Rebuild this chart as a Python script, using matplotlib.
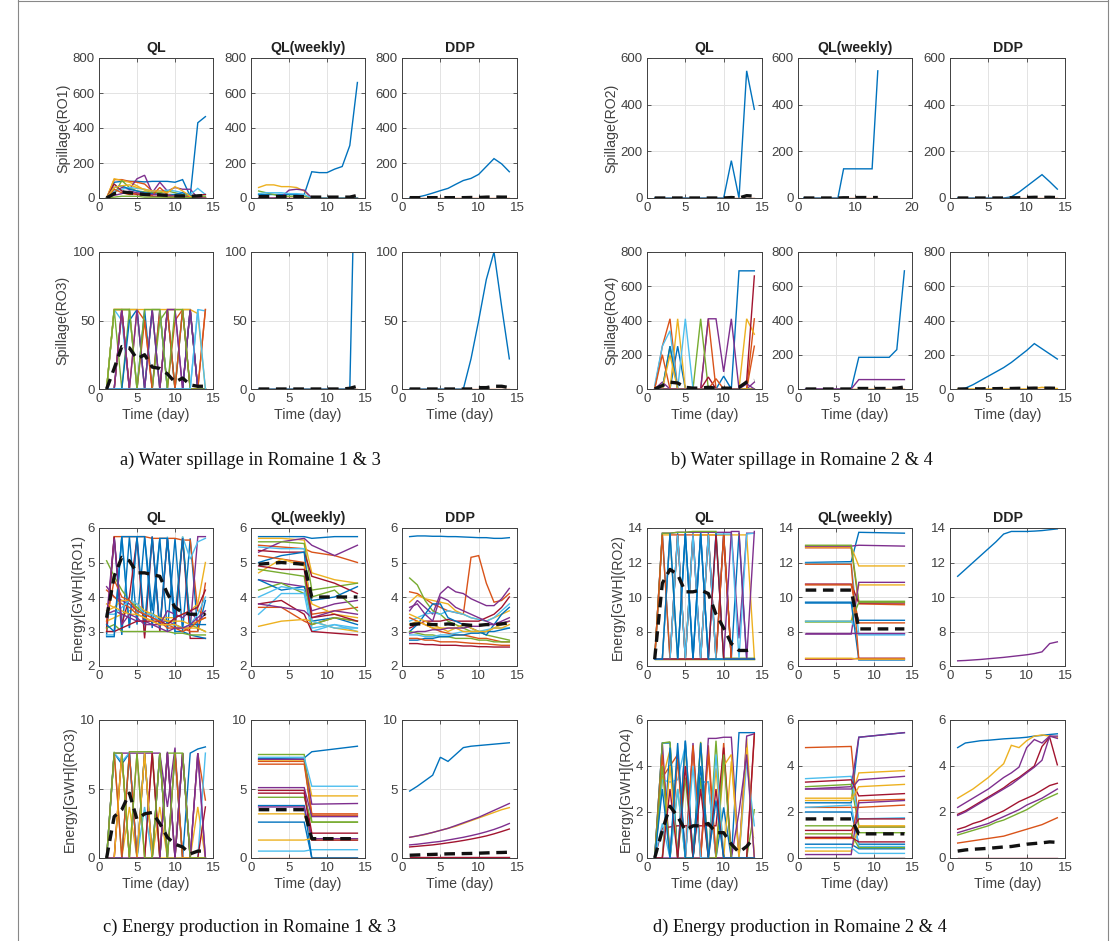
import matplotlib.pyplot as plt
from matplotlib.lines import Line2D

# MATLAB default line colours
C = ['#0072BD', '#D95319', '#EDB120', '#7E2F8E', '#77AC30', '#4DBEEE', '#A2142F']

days = list(range(1, 15))
days_w = [1, 7, 8, 14]
days_w6 = [1, 4, 7, 8, 11, 14]

# ---------------- a) spillage RO1 / RO3 ----------------
a_ql_ro1 = [
    [0, 90, 95, 95, 95, 92, 95, 95, 95, 90, 105, 10, 430, 465],
    [0, 105, 105, 95, 90, 80, 40, 20, 10, 5, 0, 0, 0, 0],
    [0, 110, 100, 90, 70, 45, 30, 20, 20, 15, 10, 5, 0, 0],
    [0, 30, 60, 50, 110, 130, 30, 90, 40, 60, 50, 50, 0, 0],
    [0, 20, 100, 60, 40, 35, 30, 30, 40, 30, 20, 10, 0, 0],
    [0, 40, 50, 60, 55, 50, 40, 40, 45, 40, 30, 20, 55, 20],
    [0, 80, 40, 30, 20, 15, 10, 10, 5, 5, 0, 0, 15, 20],
    [0, 60, 70, 50, 40, 30, 25, 20, 20, 20, 30, 15, 0, 0],
    [0, 50, 30, 20, 25, 20, 15, 60, 20, 10, 10, 5, 0, 5],
    [0, 60, 70, 75, 60, 50, 40, 40, 30, 65, 40, 10, 0, 0],
    [0, 15, 25, 40, 30, 25, 20, 20, 15, 10, 10, 0, 0, 0],
    [0, 5, 10, 10, 10, 5, 5, 5, 5, 5, 5, 0, 10, 10],
]
a_ql_ro1_mean = [0, 25, 35, 30, 25, 20, 20, 18, 15, 12, 12, 10, 12, 15]

a_qlw_ro1 = [
    [20, 20, 20, 20, 20, 20, 20, 150, 145, 145, 165, 180, 300, 660],
    [0, 0, 0, 0, 0, 0, 0, 0, 0, 0, 0, 0, 0, 0],
    [60, 75, 75, 65, 65, 60, 40, 0, 0, 0, 0, 0, 0, 0],
    [0, 0, 0, 5, 45, 50, 45, 0, 0, 0, 0, 0, 0, 0],
    [40, 30, 20, 10, 10, 10, 10, 0, 0, 0, 0, 0, 0, 0],
    [25, 30, 30, 30, 25, 25, 20, 0, 0, 0, 0, 0, 0, 0],
    [0, 0, 0, 0, 0, 0, 0, 0, 0, 0, 0, 0, 0, 0],
]
a_qlw_ro1_mean = [8, 8, 8, 8, 8, 8, 8, 5, 5, 5, 5, 5, 5, 15]

a_ddp_ro1 = [
    [0, 5, 15, 28, 42, 55, 78, 100, 112, 135, 180, 225, 195, 150],
    [0, 0, 0, 0, 0, 0, 0, 0, 0, 0, 0, 0, 0, 0],
]
a_ddp_ro1_mean = [2, 2, 2, 2, 2, 2, 2, 2, 3, 3, 5, 6, 5, 5]

a_ql_ro3 = [
    [0, 0, 58, 58, 0, 58, 0, 58, 0, 0, 58, 0, 0, 0],
    [0, 58, 58, 0, 58, 50, 0, 58, 0, 50, 58, 0, 0, 58],
    [0, 58, 58, 58, 0, 0, 58, 0, 58, 0, 0, 0, 0, 0],
    [0, 0, 0, 0, 0, 0, 0, 0, 58, 58, 0, 58, 0, 0],
    [0, 58, 0, 58, 58, 0, 0, 50, 58, 0, 58, 58, 0, 0],
    [0, 58, 50, 0, 0, 0, 58, 58, 0, 0, 0, 0, 58, 57],
    [0, 0, 58, 0, 0, 0, 0, 0, 0, 0, 0, 58, 0, 0],
    [0, 0, 0, 50, 58, 0, 58, 0, 58, 0, 0, 58, 0, 0],
    [0, 0, 58, 0, 0, 50, 0, 0, 58, 0, 58, 0, 0, 58],
    [0, 58, 58, 58, 58, 58, 58, 58, 58, 58, 58, 58, 55, 0],
    [0, 0, 58, 0, 58, 0, 58, 0, 58, 58, 0, 58, 0, 0],
    [0, 58, 58, 58, 0, 58, 58, 58, 0, 58, 58, 0, 0, 0],
    [0, 0, 0, 0, 0, 0, 0, 0, 0, 0, 0, 0, 58, 0],
]
a_ql_ro3_mean = [0, 15, 31, 30, 22, 25, 16, 15, 11, 5, 8, 3, 2, 2]

a_qlw_ro3 = [
    [0, 0, 0, 0, 0, 0, 0, 0, 0, 0, 0, 0, 0, 250],
    [0, 0, 0, 0, 0, 0, 0, 0, 0, 0, 0, 0, 0, 0],
]
a_qlw_ro3_mean = [0, 0, 0, 0, 0, 0, 0, 0, 0, 0, 0, 0, 0.5, 2]

a_ddp_ro3 = [
    [0, 0, 0, 0, 0, 0, 0, 0, 22, 50, 80, 100, 60, 22],
    [0, 0, 0, 0, 0, 0, 0, 0, 0, 0, 0, 0, 0, 0],
]
a_ddp_ro3_mean = [0, 0, 0, 0, 0, 0, 0, 0, 0, 1, 1, 2, 2, 1]

# ---------------- b) spillage RO2 / RO4 ----------------
b_ql_ro2 = [
    [0, 0, 0, 0, 0, 0, 0, 0, 0, 0, 160, 0, 545, 380],
    [0, 0, 0, 0, 0, 0, 0, 0, 0, 0, 0, 0, 0, 0],
]
b_ql_ro2_mean = [0, 0, 0, 0, 0, 0, 0, 0, 0, 0, 2, 0, 10, 8]

b_qlw_ro2 = [
    [0, 0, 0, 0, 0, 0, 0, 125, 125, 125, 125, 125, 125, 545],
    [0, 0, 0, 0, 0, 0, 0, 0, 0, 0, 0, 0, 0, 0],
]
b_qlw_ro2_mean = [0, 0, 0, 0, 0, 0, 0, 1, 1, 2, 2, 2, 2, 2]

b_ddp_ro2 = [
    [0, 0, 0, 0, 0, 0, 0, 5, 25, 50, 75, 100, 70, 38],
    [0, 0, 0, 0, 0, 0, 0, 0, 0, 0, 0, 0, 0, 0],
]
b_ddp_ro2_mean = [0, 0, 0, 0, 0, 0, 0, 1, 1, 2, 3, 3, 3, 2]

b_ql_ro4 = [
    [0, 0, 0, 250, 0, 0, 0, 0, 0, 75, 0, 690, 690, 690],
    [0, 250, 410, 0, 0, 0, 0, 410, 0, 0, 0, 0, 0, 410],
    [0, 0, 0, 410, 0, 0, 0, 0, 0, 0, 0, 0, 410, 320],
    [0, 40, 0, 0, 0, 0, 0, 410, 410, 100, 410, 0, 0, 40],
    [0, 0, 250, 0, 0, 0, 410, 0, 0, 0, 0, 0, 0, 0],
    [20, 250, 340, 0, 410, 0, 0, 0, 0, 0, 0, 0, 0, 0],
    [0, 0, 0, 0, 0, 0, 0, 70, 0, 0, 0, 0, 50, 660],
    [0, 0, 250, 0, 0, 0, 0, 0, 0, 0, 0, 0, 0, 0],
    [0, 200, 0, 0, 0, 0, 0, 0, 60, 0, 0, 0, 0, 250],
    [0, 0, 200, 0, 0, 0, 0, 0, 0, 0, 0, 0, 0, 0],
    [0, 0, 0, 0, 0, 0, 0, 0, 0, 0, 0, 0, 30, 0],
    [0, 0, 0, 0, 0, 0, 0, 0, 0, 0, 0, 0, 0, 0],
]
b_ql_ro4_mean = [0, 20, 40, 35, 10, 5, 5, 10, 5, 5, 5, 10, 40, 50]

b_qlw_ro4 = [
    [0, 0, 0, 0, 0, 0, 0, 185, 185, 185, 185, 185, 230, 690],
    [0, 0, 0, 0, 0, 0, 0, 0, 0, 0, 0, 0, 0, 0],
    [0, 0, 0, 0, 0, 0, 0, 0, 0, 0, 0, 0, 0, 0],
    [0, 0, 0, 0, 0, 0, 0, 55, 55, 55, 55, 55, 55, 55],
]
b_qlw_ro4_mean = [0, 0, 0, 0, 0, 0, 0, 3, 3, 3, 3, 3, 5, 12]

b_ddp_ro4 = [
    [0, 5, 25, 50, 75, 100, 125, 155, 190, 225, 265, 235, 205, 175],
    [0, 0, 0, 0, 0, 0, 0, 0, 0, 0, 0, 0, 0, 0],
    [0, 0, 0, 0, 0, 0, 0, 0, 0, 0, 3, 10, 5, 3],
]
b_ddp_ro4_mean = [0, 0, 1, 1, 2, 2, 3, 3, 4, 4, 5, 5, 5, 4]

# ---------------- c) energy RO1 / RO3 ----------------
c_ql_ro1 = [
    [2.9, 5.75, 2.9, 5.75, 3.2, 5.75, 3.1, 5.7, 3.0, 5.7, 3.0, 5.7, 3.0, 3.9],
    [3.0, 5.75, 5.75, 5.75, 5.75, 5.75, 5.7, 5.7, 5.7, 5.7, 5.65, 5.65, 3.6, 3.5],
    [3.3, 3.4, 3.5, 3.6, 3.7, 3.6, 3.5, 3.4, 3.4, 3.4, 3.5, 3.6, 3.8, 5.0],
    [4.3, 4.0, 3.9, 3.8, 3.6, 3.5, 3.4, 3.3, 3.3, 3.2, 3.1, 3.1, 5.75, 5.75],
    [5.05, 4.6, 4.2, 3.9, 3.7, 3.5, 3.5, 3.4, 3.3, 3.3, 5.75, 3.2, 3.1, 3.0],
    [2.9, 2.9, 5.75, 3.1, 5.75, 2.9, 5.75, 3.0, 5.75, 2.9, 5.75, 5.1, 5.6, 5.7],
    [3.1, 5.75, 3.2, 4.0, 5.7, 2.8, 5.75, 3.0, 5.7, 3.1, 5.7, 2.8, 2.8, 2.8],
    [2.85, 2.85, 5.75, 3.1, 5.75, 3.2, 5.75, 3.1, 5.7, 3.0, 3.0, 2.9, 2.85, 2.8],
    [4.2, 4.0, 3.8, 3.7, 3.5, 3.4, 3.3, 3.2, 3.2, 3.1, 3.1, 3.0, 3.0, 4.4],
    [3.6, 3.7, 3.9, 3.9, 3.8, 3.6, 3.5, 3.4, 3.3, 3.3, 3.3, 3.2, 3.3, 3.4],
    [3.5, 3.6, 3.5, 3.4, 3.3, 3.3, 3.2, 3.2, 3.6, 3.5, 3.4, 3.6, 3.3, 3.5],
    [3.1, 3.2, 3.0, 3.0, 3.0, 3.0, 3.0, 3.0, 3.0, 2.95, 2.95, 2.9, 2.9, 2.9],
    [3.5, 3.5, 3.7, 3.9, 3.8, 3.5, 3.5, 3.3, 3.2, 3.2, 3.1, 3.2, 3.5, 4.0],
    [3.0, 3.0, 3.1, 3.2, 3.3, 3.3, 3.3, 3.3, 3.2, 3.4, 3.5, 3.6, 3.7, 4.2],
    [3.2, 3.0, 5.75, 5.75, 5.75, 5.75, 3.6, 5.7, 5.7, 3.4, 5.7, 3.2, 3.2, 3.2],
    [3.3, 4.5, 4.0, 3.9, 3.6, 3.5, 3.4, 3.3, 3.1, 3.1, 3.0, 3.1, 3.3, 3.4],
    [3.8, 3.7, 3.6, 3.5, 3.5, 3.4, 3.3, 3.2, 3.2, 3.2, 3.1, 3.1, 3.1, 3.0],
    [3.4, 5.7, 3.2, 3.5, 3.4, 3.2, 3.2, 3.1, 3.0, 3.1, 3.1, 3.2, 3.4, 3.6],
]
c_ql_ro1_mean = [3.4, 4.6, 5.15, 5.05, 4.7, 4.7, 4.65, 4.6, 4.1, 3.7, 3.55, 3.5, 3.5, 3.5]

c_qlw_ro1 = [
    [5.75, 5.75, 5.75, 5.7, 5.75, 5.75],
    [5.5, 5.45, 5.4, 5.3, 5.2, 5.0],
    [5.7, 5.7, 5.65, 4.7, 4.5, 4.4],
    [5.3, 5.6, 5.7, 5.5, 5.2, 5.5],
    [5.6, 5.6, 5.55, 4.2, 4.3, 4.4],
    [5.45, 5.4, 5.4, 3.1, 3.2, 3.1],
    [5.35, 5.3, 5.3, 4.6, 4.4, 4.1],
    [5.0, 5.2, 5.3, 3.3, 3.4, 3.2],
    [5.2, 5.1, 5.0, 3.5, 3.6, 3.7],
    [4.7, 5.1, 4.9, 3.8, 3.5, 3.4],
    [4.5, 4.4, 4.3, 3.6, 3.8, 3.9],
    [4.2, 4.4, 4.1, 4.0, 4.2, 3.6],
    [3.5, 4.1, 4.1, 3.0, 3.2, 3.0],
    [3.8, 3.9, 3.5, 3.0, 2.95, 2.9],
    [4.5, 4.2, 4.3, 3.9, 4.0, 4.3],
    [3.7, 3.7, 3.3, 3.2, 3.4, 3.3],
    [3.15, 3.3, 3.35, 3.3, 3.1, 3.0],
    [3.8, 3.7, 3.6, 3.4, 3.6, 3.5],
    [4.8, 4.7, 4.6, 3.2, 3.4, 3.3],
    [4.0, 4.3, 4.2, 3.3, 3.1, 3.1],
    [4.9, 4.8, 4.8, 3.4, 3.5, 3.3],
]
c_qlw_ro1_mean = [4.95, 5.0, 4.95, 4.0, 4.0, 4.0]

c_ddp_ro1 = [
    [5.75, 5.77, 5.77, 5.76, 5.76, 5.75, 5.75, 5.74, 5.73, 5.72, 5.72, 5.7, 5.7, 5.72],
    [4.15, 4.1, 3.95, 3.8, 3.7, 3.6, 3.55, 3.5, 5.15, 5.2, 4.4, 3.85, 3.9, 4.1],
    [3.85, 4.05, 3.95, 3.9, 3.85, 3.8, 3.6, 3.5, 3.4, 3.35, 3.3, 3.4, 3.5, 3.6],
    [3.6, 3.9, 3.7, 3.5, 4.1, 4.3, 4.15, 4.1, 3.95, 3.85, 3.75, 3.75, 3.95, 4.25],
    [4.55, 4.35, 3.9, 3.6, 3.5, 3.3, 3.2, 3.1, 3.0, 3.0, 2.9, 2.85, 2.8, 2.75],
    [3.3, 3.4, 3.5, 3.55, 3.5, 3.6, 3.55, 3.5, 3.4, 3.35, 3.3, 3.4, 3.6, 3.8],
    [3.1, 3.2, 3.3, 3.3, 3.3, 3.35, 3.3, 3.3, 3.3, 3.3, 3.4, 3.5, 3.7, 4.0],
    [3.0, 3.2, 3.5, 3.8, 3.8, 3.4, 3.3, 3.2, 3.1, 3.0, 2.9, 3.2, 3.5, 3.7],
    [3.4, 3.3, 3.2, 3.1, 3.0, 2.95, 2.9, 2.9, 2.85, 2.8, 2.8, 2.75, 2.7, 2.7],
    [3.2, 3.3, 3.2, 3.1, 3.1, 3.0, 3.1, 3.2, 3.1, 3.0, 3.0, 3.1, 3.2, 3.3],
    [3.7, 3.8, 3.5, 3.3, 4.0, 3.9, 3.7, 3.6, 3.5, 3.4, 3.3, 3.2, 3.3, 3.4],
    [3.0, 2.95, 2.9, 2.9, 2.85, 2.85, 2.8, 2.8, 2.8, 2.75, 2.75, 2.7, 2.7, 2.7],
    [2.9, 2.9, 2.85, 2.85, 2.9, 2.9, 2.95, 3.0, 3.0, 3.0, 3.05, 3.1, 3.1, 3.1],
    [2.65, 2.65, 2.62, 2.62, 2.6, 2.6, 2.6, 2.58, 2.58, 2.56, 2.56, 2.55, 2.55, 2.55],
    [2.75, 2.75, 2.8, 2.8, 2.85, 2.85, 2.9, 2.9, 2.95, 2.95, 3.0, 3.0, 3.05, 3.1],
    [2.8, 2.8, 2.75, 2.75, 2.7, 2.7, 2.7, 2.68, 2.66, 2.65, 2.64, 2.62, 2.6, 2.6],
    [3.5, 3.4, 3.3, 3.2, 3.1, 3.1, 3.1, 3.0, 3.0, 3.0, 3.0, 3.1, 3.1, 3.2],
    [2.95, 3.0, 3.0, 3.05, 3.05, 3.1, 3.1, 3.1, 3.15, 3.15, 3.2, 3.2, 3.25, 3.3],
]
c_ddp_ro1_mean = [3.2, 3.22, 3.22, 3.2, 3.2, 3.22, 3.2, 3.2, 3.18, 3.18, 3.2, 3.2, 3.22, 3.25]

c_ql_ro3 = [
    [0, 7.6, 6.8, 7.6, 0, 7.6, 0, 7.6, 0, 7.6, 0, 7.6, 7.9, 8.05],
    [0, 0, 7.6, 0, 7.6, 0, 7.6, 0, 7.6, 0, 7.6, 0, 7.6, 4.2],
    [0, 0, 0, 3.7, 0, 0, 0, 3.7, 0, 0, 7.6, 0, 3.7, 0],
    [0, 7.6, 7.6, 7.6, 7.6, 7.6, 7.6, 7.6, 3.7, 8.0, 0, 0, 7.6, 0],
    [0, 7.7, 0, 7.7, 7.7, 7.7, 7.7, 0, 7.6, 7.6, 0, 0, 0, 0],
    [0, 7.6, 7.0, 7.6, 0, 3.7, 0, 0, 7.6, 0, 7.6, 0, 0, 7.6],
    [0, 0, 7.6, 0, 0, 0, 7.6, 0, 7.6, 0, 7.6, 0, 0, 3.7],
    [0, 0, 0, 7.6, 0, 7.6, 0, 7.6, 0, 0, 0, 0, 0, 0],
    [0, 7.6, 0, 7.6, 0, 7.6, 0, 7.6, 0, 7.6, 0, 0, 0, 0],
    [0, 0, 7.6, 0, 0, 7.6, 0, 0, 0, 0, 0, 0, 0, 0],
    [0, 0, 0, 0, 0, 0, 0, 0, 7.7, 0, 7.6, 0, 7.6, 0],
    [0, 7.6, 7.6, 0, 7.6, 0, 0, 7.6, 0, 7.6, 7.6, 0, 0, 0],
]
c_ql_ro3_mean = [0, 3.0, 3.5, 4.7, 2.8, 3.2, 3.3, 2.5, 1.5, 1.0, 0.8, 0.3, 0.5, 0.5]

c_qlw_ro3 = [
    [7.2, 7.25, 7.7, 8.1],
    [7.0, 7.0, 3.2, 3.2],
    [7.1, 7.1, 4.5, 4.5],
    [7.15, 7.15, 3.9, 3.95],
    [7.5, 7.5, 2.6, 2.6],
    [7.3, 7.3, 5.2, 5.2],
    [4.9, 4.9, 1.8, 1.8],
    [2.6, 2.6, 0, 0],
    [6.8, 6.8, 3.1, 3.1],
    [3.2, 3.2, 1.3, 1.3],
    [5.1, 5.1, 3.0, 3.0],
    [4.4, 4.4, 2.6, 2.6],
    [0.5, 0.5, 0.6, 0.6],
    [4.7, 4.7, 1.3, 1.3],
    [3.8, 3.8, 0, 0],
    [0, 0, 0, 0],
    [1.3, 1.3, 1.4, 1.4],
    [3.7, 3.7, 1.4, 1.4],
]
c_qlw_ro3_mean = [3.5, 3.5, 1.4, 1.4]

c_ddp_ro3 = [
    [4.85, 5.2, 5.6, 6.0, 7.3, 7.0, 7.5, 8.0, 8.1, 8.15, 8.2, 8.25, 8.3, 8.35],
    [0.05, 0.05, 0.05, 0.05, 0.05, 0.05, 0.05, 0.05, 0.05, 0.05, 0.05, 0.05, 0.05, 0.05],
    [1.5, 1.6, 1.7, 1.85, 2.0, 2.15, 2.3, 2.5, 2.7, 2.9, 3.1, 3.3, 3.5, 3.65],
    [1.5, 1.6, 1.72, 1.85, 2.0, 2.15, 2.35, 2.55, 2.75, 2.95, 3.2, 3.45, 3.7, 3.95],
    [0.95, 1.0, 1.07, 1.14, 1.2, 1.3, 1.4, 1.5, 1.62, 1.75, 1.9, 2.07, 2.27, 2.5],
    [0.8, 0.85, 0.9, 0.95, 1.02, 1.1, 1.18, 1.27, 1.37, 1.48, 1.6, 1.75, 1.92, 2.1],
]
c_ddp_ro3_colors = [0, 6, 2, 3, 3, 6]
c_ddp_ro3_mean = [0.2, 0.22, 0.24, 0.26, 0.28, 0.3, 0.31, 0.32, 0.33, 0.35, 0.37, 0.39, 0.4, 0.42]

# ---------------- d) energy RO2 / RO4 ----------------
d_ql_ro2 = [
    [6.4, 13.7, 6.4, 13.7, 6.4, 13.7, 6.4, 13.7, 6.4, 13.7, 6.4, 13.7, 6.4, 6.4],
    [6.4, 6.4, 13.6, 13.6, 13.6, 13.6, 13.6, 13.6, 13.6, 13.6, 6.4, 6.4, 6.4, 6.4],
    [6.4, 13.6, 13.6, 6.4, 6.4, 13.6, 13.6, 13.6, 13.6, 13.6, 13.6, 13.6, 13.6, 6.5],
    [6.4, 13.7, 13.7, 13.75, 13.75, 13.75, 13.75, 13.75, 13.75, 13.75, 13.75, 7.6, 13.7, 13.7],
    [6.4, 13.7, 13.7, 13.75, 13.75, 13.8, 13.8, 13.8, 13.8, 6.45, 6.45, 6.45, 6.45, 6.45],
    [6.4, 6.4, 13.65, 6.4, 13.65, 6.4, 13.65, 6.4, 13.65, 13.65, 13.65, 6.4, 13.65, 13.7],
    [6.4, 6.4, 6.4, 13.6, 6.4, 13.6, 6.4, 13.6, 6.4, 13.6, 6.4, 6.4, 6.4, 6.4],
    [6.4, 6.4, 6.4, 6.4, 13.7, 6.4, 13.7, 6.4, 13.7, 6.4, 6.4, 6.4, 6.4, 6.4],
    [6.4, 13.6, 6.4, 13.6, 6.4, 6.4, 6.4, 13.6, 6.4, 13.6, 6.4, 6.4, 6.4, 6.4],
    [6.4, 6.4, 6.4, 6.4, 6.4, 6.4, 6.4, 6.4, 6.4, 6.4, 6.4, 6.4, 6.4, 6.4],
    [6.4, 6.4, 6.4, 6.4, 6.4, 6.4, 6.4, 6.4, 6.4, 6.4, 13.8, 13.8, 6.4, 13.8],
    [6.4, 6.4, 6.4, 6.4, 6.4, 6.4, 6.4, 6.4, 6.4, 6.4, 6.4, 6.4, 6.4, 6.4],
    [6.4, 6.4, 6.4, 13.6, 6.4, 13.6, 6.4, 13.6, 6.4, 6.4, 6.4, 6.4, 6.4, 6.4],
    [6.4, 6.4, 6.4, 6.4, 6.4, 6.4, 6.4, 6.4, 13.6, 6.4, 6.4, 6.4, 6.4, 6.4],
    [6.4, 6.4, 13.7, 6.4, 13.7, 6.4, 13.7, 6.4, 6.4, 6.4, 6.4, 6.4, 6.4, 6.4],
]
d_ql_ro2_mean = [6.4, 10.8, 11.6, 11.3, 10.3, 10.3, 10.4, 10.2, 9.0, 8.2, 7.3, 6.9, 6.9, 7.0]

d_qlw_ro2 = [
    [12.0, 12.05, 13.75, 13.7],
    [12.85, 12.85, 9.6, 9.55],
    [12.9, 12.9, 11.8, 11.8],
    [12.95, 12.95, 13.0, 12.95],
    [13.0, 13.0, 9.75, 9.75],
    [11.95, 11.95, 7.8, 7.8],
    [10.75, 10.75, 9.65, 9.65],
    [9.65, 9.65, 8.65, 8.65],
    [10.7, 10.7, 8.5, 8.5],
    [8.6, 8.6, 10.7, 10.7],
    [7.85, 7.85, 10.85, 10.85],
    [8.55, 8.55, 9.7, 9.7],
    [8.6, 8.6, 7.85, 7.85],
    [6.4, 6.4, 6.45, 6.45],
    [9.7, 9.7, 6.35, 6.35],
    [11.9, 11.9, 6.4, 6.4],
    [6.45, 6.45, 6.4, 6.4],
    [7.9, 7.9, 7.9, 7.9],
]
d_qlw_ro2_mean = [10.4, 10.4, 8.15, 8.15]

d_ddp_ro2 = [
    [11.2, 11.6, 12.0, 12.4, 12.8, 13.2, 13.65, 13.8, 13.8, 13.8, 13.82, 13.85, 13.9, 13.95],
    [6.3, 6.32, 6.35, 6.38, 6.42, 6.46, 6.5, 6.55, 6.6, 6.65, 6.72, 6.82, 7.3, 7.4],
]
d_ddp_ro2_colors = [0, 3]

d_ql_ro4 = [
    [0, 5.0, 5.0, 0, 5.1, 0, 3.3, 3.3, 0, 2.2, 0, 5.45, 5.45, 5.45],
    [0, 3.5, 4.0, 4.5, 0, 4.8, 0, 4.9, 0, 5.0, 0, 0, 0, 5.3],
    [0, 3.4, 4.7, 0, 4.8, 0, 5.0, 0, 3.9, 0, 4.2, 0, 5.2, 0],
    [0, 5.0, 0, 4.6, 0, 5.0, 0, 5.2, 5.2, 5.25, 5.25, 0, 5.3, 5.4],
    [0, 5.0, 5.05, 0, 3.5, 0, 5.05, 0, 5.1, 0, 0, 0, 0, 2.1],
    [0, 3.4, 3.3, 3.4, 4.9, 0, 3.3, 3.3, 0, 0, 0, 0, 4.2, 1.4],
    [0, 1.3, 1.35, 1.4, 1.4, 1.4, 1.4, 1.4, 1.4, 4.8, 0, 0, 0, 5.4],
    [0, 0, 4.8, 0, 5.1, 0, 5.0, 0, 0, 0, 0, 0, 0, 0],
    [0, 4.5, 0, 4.3, 0, 4.9, 0, 4.5, 0, 0, 0, 0, 0, 0],
    [0, 0, 4.0, 0, 0, 0, 0, 0, 0, 4.0, 4.5, 0, 4.8, 0],
    [0, 0, 0, 0, 0, 0, 0, 0, 0, 0, 0, 2.0, 4.5, 0],
    [0, 4.0, 0, 3.0, 0, 0, 3.5, 0, 0, 4.5, 0, 0, 0, 0],
    [0, 1.5, 0, 3.0, 0, 4.0, 0, 0, 4.5, 0, 0, 0, 0, 0],
    [0, 0, 3.0, 0, 4.0, 0, 3.0, 0, 3.0, 0, 0, 0, 0, 0],
    [0, 3.0, 0, 5.0, 0, 0, 4.0, 0, 2.5, 0, 0, 0, 0, 0],
]
d_ql_ro4_mean = [0, 1.2, 2.25, 1.8, 1.2, 1.4, 1.4, 1.5, 1.1, 1.1, 0.6, 0.25, 0.5, 0.9]

d_qlw_ro4 = [
    [2.4, 2.4, 5.25, 5.45],
    [4.8, 4.85, 1.35, 1.35],
    [2.6, 2.6, 3.7, 3.8],
    [3.0, 3.1, 5.25, 5.45],
    [3.1, 3.2, 1.35, 1.35],
    [3.45, 3.55, 1.7, 1.75],
    [3.3, 3.4, 2.7, 2.8],
    [2.0, 2.0, 0.6, 0.6],
    [2.2, 2.2, 2.2, 2.3],
    [2.5, 2.5, 3.1, 3.2],
    [3.0, 3.0, 3.4, 3.55],
    [1.4, 1.4, 1.1, 1.1],
    [2.2, 2.3, 0.5, 0.5],
    [1.2, 1.2, 1.7, 1.7],
    [0.6, 0.6, 0.4, 0.4],
    [0.85, 0.85, 2.5, 2.55],
    [0.3, 0.3, 1.4, 1.4],
    [0.15, 0.15, 2.4, 2.5],
    [1.05, 1.05, 0.45, 0.45],
    [0.45, 0.45, 0.2, 0.2],
    [0.9, 0.9, 0.7, 0.7],
    [0, 0, 0, 0],
    [0, 0, 0, 0],
]
d_qlw_ro4_mean = [1.7, 1.7, 1.05, 1.05]

d_ddp_ro4 = [
    [4.8, 5.0, 5.05, 5.1, 5.12, 5.15, 5.18, 5.2, 5.22, 5.25, 5.3, 5.33, 5.37, 5.4],
    [2.6, 2.8, 3.0, 3.25, 3.5, 3.8, 4.1, 4.9, 4.8, 5.1, 5.3, 5.35, 5.3, 5.25],
    [2.2, 2.4, 2.6, 2.8, 3.0, 3.25, 3.5, 3.7, 3.95, 4.8, 5.15, 5.0, 5.3, 5.3],
    [1.9, 2.05, 2.25, 2.45, 2.65, 2.85, 3.05, 3.3, 3.5, 3.75, 4.0, 4.85, 5.25, 4.05],
    [1.85, 2.0, 2.2, 2.4, 2.6, 2.8, 3.0, 3.2, 3.45, 3.7, 3.95, 4.25, 5.3, 5.2],
    [1.25, 1.35, 1.5, 1.6, 1.75, 1.9, 2.05, 2.25, 2.45, 2.6, 2.75, 2.95, 3.15, 3.25],
    [1.1, 1.2, 1.3, 1.4, 1.5, 1.65, 1.8, 1.95, 2.1, 2.3, 2.45, 2.6, 2.8, 3.0],
    [1.0, 1.1, 1.2, 1.3, 1.4, 1.55, 1.65, 1.8, 1.95, 2.1, 2.3, 2.5, 2.65, 2.8],
    [0.65, 0.7, 0.75, 0.8, 0.85, 0.9, 0.95, 1.05, 1.15, 1.25, 1.35, 1.45, 1.6, 1.75],
    [0, 0, 0, 0, 0, 0, 0, 0, 0, 0, 0, 0, 0, 0],
]
d_ddp_ro4_colors = [0, 2, 3, 6, 3, 6, 3, 4, 1, 6]
d_ddp_ro4_mean = [0.3, 0.35, 0.38, 0.4, 0.42, 0.45, 0.48, 0.5, 0.55, 0.6, 0.63, 0.66, 0.7, 0.68]

# ---------------- figure layout (pixels) ----------------
W, H = 1120, 941
fig = plt.figure(figsize=(W / 100, H / 100), dpi=100)
plt.rcParams['font.family'] = ['Liberation Sans', 'DejaVu Sans']

AX = '#404040'

def add_ax(x0, x1, y0, y1):
    return fig.add_axes([x0 / W, 1 - y1 / H, (x1 - x0) / W, (y1 - y0) / H])

def draw(ax, x, lines, mean, colors=None, ylim=(0, 1), yticks=None,
         xlim=(0, 15), xticks=(0, 5, 10, 15), title=None, ylabel=None, xlabel=False):
    for i, y in enumerate(lines):
        c = C[colors[i]] if colors is not None else C[i % 7]
        ax.plot(x, y, color=c, lw=1.0, solid_joinstyle='miter')
    if mean is not None:
        ax.plot(x, mean, color='#111111', lw=2.4, dashes=(3.2, 2.0))
    ax.set_xlim(*xlim)
    ax.set_ylim(*ylim)
    ax.set_xticks(xticks)
    if yticks is not None:
        ax.set_yticks(yticks)
    ax.grid(True, color='#e3e3e3', lw=0.7)
    ax.set_axisbelow(True)
    ax.tick_params(direction='in', length=3, width=0.6, colors=AX, labelsize=9.5,
                   top=True, right=True, pad=3)
    for s in ax.spines.values():
        s.set_color(AX)
        s.set_linewidth(0.7)
    if title:
        ax.set_title(title, fontsize=10.2, fontweight='bold', color='#222222', pad=4)
    if ylabel:
        ax.set_ylabel(ylabel, fontsize=10.2, color=AX, labelpad=2)
    if xlabel:
        ax.set_xlabel('Time (day)', fontsize=10.2, color=AX, labelpad=2)

cols_a = [(99, 213), (251, 365), (402, 517)]
cols_b = [(647, 762), (798, 912), (950, 1065)]
rows_ab = [(58, 198), (252, 389)]
rows_cd = [(528, 666), (720, 858)]
titles = ['QL', 'QL(weekly)', 'DDP']

# panel a
yt = [0, 200, 400, 600, 800]
specs = [
    (cols_a, rows_ab[0], 'Spillage(RO1)', False, [
        (days, a_ql_ro1, a_ql_ro1_mean, None, (0, 800), yt, (0, 15), (0, 5, 10, 15)),
        (days, a_qlw_ro1, a_qlw_ro1_mean, None, (0, 800), yt, (0, 15), (0, 5, 10, 15)),
        (days, a_ddp_ro1, a_ddp_ro1_mean, None, (0, 800), yt, (0, 15), (0, 5, 10, 15))]),
    (cols_a, rows_ab[1], 'Spillage(RO3)', True, [
        (days, a_ql_ro3, a_ql_ro3_mean, None, (0, 100), [0, 50, 100], (0, 15), (0, 5, 10, 15)),
        (days, a_qlw_ro3, a_qlw_ro3_mean, None, (0, 100), [0, 50, 100], (0, 15), (0, 5, 10, 15)),
        (days, a_ddp_ro3, a_ddp_ro3_mean, None, (0, 100), [0, 50, 100], (0, 15), (0, 5, 10, 15))]),
    (cols_b, rows_ab[0], 'Spillage(RO2)', False, [
        (days, b_ql_ro2, b_ql_ro2_mean, None, (0, 600), [0, 200, 400, 600], (0, 15), (0, 5, 10, 15)),
        (days, b_qlw_ro2, b_qlw_ro2_mean, None, (0, 600), [0, 200, 400, 600], (0, 20), (0, 10, 20)),
        (days, b_ddp_ro2, b_ddp_ro2_mean, None, (0, 600), [0, 200, 400, 600], (0, 15), (0, 5, 10, 15))]),
    (cols_b, rows_ab[1], 'Spillage(RO4)', True, [
        (days, b_ql_ro4, b_ql_ro4_mean, None, (0, 800), yt, (0, 15), (0, 5, 10, 15)),
        (days, b_qlw_ro4, b_qlw_ro4_mean, None, (0, 800), yt, (0, 15), (0, 5, 10, 15)),
        (days, b_ddp_ro4, b_ddp_ro4_mean, None, (0, 800), yt, (0, 15), (0, 5, 10, 15))]),
    (cols_a, rows_cd[0], 'Energy[GWH](RO1)', False, [
        (days, c_ql_ro1, c_ql_ro1_mean, None, (2, 6), [2, 3, 4, 5, 6], (0, 15), (0, 5, 10, 15)),
        (days_w6, c_qlw_ro1, c_qlw_ro1_mean, None, (2, 6), [2, 3, 4, 5, 6], (0, 15), (0, 5, 10, 15)),
        (days, c_ddp_ro1, c_ddp_ro1_mean, None, (2, 6), [2, 3, 4, 5, 6], (0, 15), (0, 5, 10, 15))]),
    (cols_a, rows_cd[1], 'Energy[GWH](RO3)', True, [
        (days, c_ql_ro3, c_ql_ro3_mean, None, (0, 10), [0, 5, 10], (0, 15), (0, 5, 10, 15)),
        (days_w, c_qlw_ro3, c_qlw_ro3_mean, None, (0, 10), [0, 5, 10], (0, 15), (0, 5, 10, 15)),
        (days, c_ddp_ro3, c_ddp_ro3_mean, c_ddp_ro3_colors, (0, 10), [0, 5, 10], (0, 15), (0, 5, 10, 15))]),
    (cols_b, rows_cd[0], 'Energy[GWH](RO2)', False, [
        (days, d_ql_ro2, d_ql_ro2_mean, None, (6, 14), [6, 8, 10, 12, 14], (0, 15), (0, 5, 10, 15)),
        (days_w, d_qlw_ro2, d_qlw_ro2_mean, None, (6, 14), [6, 8, 10, 12, 14], (0, 15), (0, 5, 10, 15)),
        (days, d_ddp_ro2, None, d_ddp_ro2_colors, (6, 14), [6, 8, 10, 12, 14], (0, 15), (0, 5, 10, 15))]),
    (cols_b, rows_cd[1], 'Energy[GWH](RO4)', True, [
        (days, d_ql_ro4, d_ql_ro4_mean, None, (0, 6), [0, 2, 4, 6], (0, 15), (0, 5, 10, 15)),
        (days_w, d_qlw_ro4, d_qlw_ro4_mean, None, (0, 6), [0, 2, 4, 6], (0, 15), (0, 5, 10, 15)),
        (days, d_ddp_ro4, d_ddp_ro4_mean, d_ddp_ro4_colors, (0, 6), [0, 2, 4, 6], (0, 15), (0, 5, 10, 15))]),
]

for cols, (y0, y1), ylab, bottom, subs in specs:
    top_row = not bottom
    for j, ((x0, x1), sub) in enumerate(zip(cols, subs)):
        x, lines, mean, colors, ylim, yticks, xlim, xticks = sub
        ax = add_ax(x0, x1, y0, y1)
        draw(ax, x, lines, mean, colors, ylim, yticks, xlim, xticks,
             title=titles[j] if top_row else None,
             ylabel=ylab if j == 0 else None, xlabel=bottom)

cap = dict(fontsize=13.2, family=['Liberation Serif', 'DejaVu Serif'], color='#111111',
           ha='center', va='center')
fig.text(250 / W, 1 - 460 / H, 'a) Water spillage in Romaine 1 & 3', **cap)
fig.text(802 / W, 1 - 460 / H, 'b) Water spillage in Romaine 2 & 4', **cap)
fig.text(250 / W, 1 - 927 / H, 'c) Energy production in Romaine 1 & 3', **cap)
fig.text(800 / W, 1 - 927 / H, 'd) Energy production in Romaine 2 & 4', **cap)

# page frame
for xs, ys in [([18, 18], [0, H]), ([1108, 1108], [0, H]), ([18, 1108], [1, 1])]:
    fig.add_artist(Line2D([v / W for v in xs], [1 - v / H for v in ys], color='#888888', lw=0.8))

fig.savefig('out.png', dpi=100)
